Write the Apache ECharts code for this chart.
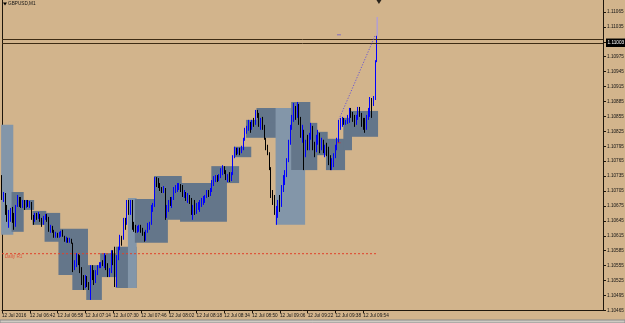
<!DOCTYPE html>
<html><head><meta charset="utf-8">
<script src="https://cdn.jsdelivr.net/npm/echarts@6/dist/echarts.min.js"></script>
<style>html,body{margin:0;padding:0;background:#d2b48c;}#c{width:625px;height:323px;}</style>
</head><body><div id="c"></div>
<script>
const symbolName = 'GBPUSD,M1';
const timeLabels = ['12 Jul 2016','12 Jul 06:42','12 Jul 06:58','12 Jul 07:14','12 Jul 07:30','12 Jul 07:46','12 Jul 08:02','12 Jul 08:18','12 Jul 08:34','12 Jul 08:50','12 Jul 09:06','12 Jul 09:22','12 Jul 09:38','12 Jul 09:54'];
const labelStep = 16;
const slotCount = 347;
const yMin = 1.10465, yMax = 1.11089, yStep = 0.0003;

const opens = [1.10731,1.10691,1.10699,1.10663,1.10651,1.10659,1.10667,1.10649,1.10635,1.10673,
1.10693,1.10681,1.10677,1.10685,1.10671,1.10681,1.10677,1.10683,1.10651,1.10643,
1.10657,1.10651,1.10659,1.10649,1.10637,1.10653,1.10655,1.10647,1.10627,1.10633,
1.10625,1.10617,1.10619,1.10613,1.10619,1.10623,1.10615,1.10607,1.10609,1.10603,
1.10605,1.10601,1.10550,1.10562,1.10576,1.10562,1.10546,1.10522,1.10512,1.10530,
1.10516,1.10510,1.10550,1.10534,1.10522,1.10542,1.10552,1.10556,1.10560,1.10558,
1.10574,1.10554,1.10538,1.10544,1.10582,1.10562,1.10518,1.10570,1.10586,1.10611,
1.10607,1.10643,1.10637,1.10681,1.10667,1.10677,1.10635,1.10631,1.10627,1.10631,
1.10633,1.10625,1.10621,1.10607,1.10623,1.10635,1.10639,1.10671,1.10677,1.10727,
1.10721,1.10717,1.10711,1.10707,1.10711,1.10653,1.10671,1.10681,1.10679,1.10689,
1.10709,1.10713,1.10715,1.10717,1.10707,1.10697,1.10701,1.10691,1.10695,1.10683,
1.10663,1.10671,1.10667,1.10675,1.10679,1.10683,1.10687,1.10689,1.10693,1.10703,
1.10699,1.10707,1.10723,1.10731,1.10733,1.10729,1.10735,1.10747,1.10753,1.10747,
1.10731,1.10735,1.10727,1.10739,1.10771,1.10787,1.10783,1.10787,1.10781,1.10790,
1.10806,1.10826,1.10830,1.10840,1.10828,1.10842,1.10838,1.10864,1.10858,1.10838,
1.10846,1.10832,1.10812,1.10794,1.10783,1.10753,1.10697,1.10687,1.10663,1.10671,
1.10683,1.10677,1.10711,1.10731,1.10741,1.10767,1.10802,1.10832,1.10852,1.10872,
1.10856,1.10878,1.10844,1.10820,1.10828,1.10777,1.10802,1.10794,1.10812,1.10836,
1.10796,1.10787,1.10808,1.10818,1.10792,1.10806,1.10787,1.10792,1.10781,1.10763,
1.10755,1.10767,1.10777,1.10794,1.10808,1.10844,1.10848,1.10850,1.10842,1.10844,
1.10854,1.10868,1.10860,1.10850,1.10840,1.10854,1.10870,1.10862,1.10840,1.10836,
1.10828,1.10854,1.10864,1.10888,1.10878,1.10892,1.10964];

const closes = [1.10691,1.10699,1.10663,1.10651,1.10659,1.10667,1.10649,1.10635,1.10673,1.10693,
1.10681,1.10677,1.10685,1.10671,1.10681,1.10677,1.10683,1.10651,1.10643,1.10657,
1.10651,1.10659,1.10649,1.10637,1.10653,1.10655,1.10647,1.10627,1.10633,1.10625,
1.10617,1.10619,1.10613,1.10619,1.10623,1.10615,1.10607,1.10609,1.10603,1.10605,
1.10601,1.10550,1.10562,1.10576,1.10562,1.10546,1.10522,1.10512,1.10530,1.10516,
1.10510,1.10550,1.10534,1.10522,1.10542,1.10552,1.10556,1.10560,1.10558,1.10574,
1.10554,1.10538,1.10544,1.10582,1.10562,1.10518,1.10570,1.10586,1.10611,1.10607,
1.10643,1.10637,1.10681,1.10667,1.10677,1.10635,1.10631,1.10627,1.10631,1.10633,
1.10625,1.10621,1.10607,1.10623,1.10635,1.10639,1.10671,1.10677,1.10727,1.10721,
1.10717,1.10711,1.10707,1.10711,1.10653,1.10671,1.10681,1.10679,1.10689,1.10709,
1.10713,1.10715,1.10717,1.10707,1.10697,1.10701,1.10691,1.10695,1.10683,1.10663,
1.10671,1.10667,1.10675,1.10679,1.10683,1.10687,1.10689,1.10693,1.10703,1.10699,
1.10707,1.10723,1.10731,1.10733,1.10729,1.10735,1.10747,1.10753,1.10747,1.10731,
1.10735,1.10727,1.10739,1.10771,1.10787,1.10783,1.10787,1.10781,1.10790,1.10806,
1.10826,1.10830,1.10840,1.10828,1.10842,1.10838,1.10864,1.10858,1.10838,1.10846,
1.10832,1.10812,1.10794,1.10783,1.10753,1.10697,1.10687,1.10663,1.10671,1.10683,
1.10677,1.10711,1.10731,1.10741,1.10767,1.10802,1.10832,1.10852,1.10872,1.10856,
1.10878,1.10844,1.10820,1.10828,1.10777,1.10802,1.10794,1.10812,1.10836,1.10796,
1.10787,1.10808,1.10818,1.10792,1.10806,1.10787,1.10792,1.10781,1.10763,1.10755,
1.10767,1.10777,1.10794,1.10808,1.10844,1.10848,1.10850,1.10842,1.10844,1.10854,
1.10868,1.10860,1.10850,1.10840,1.10854,1.10870,1.10862,1.10840,1.10836,1.10828,
1.10854,1.10864,1.10888,1.10878,1.10892,1.10964,1.11003];

const highs = [1.10737,1.10703,1.10701,1.10677,1.10667,1.10671,1.10673,1.10661,1.10677,1.10697,
1.10693,1.10693,1.10687,1.10687,1.10687,1.10687,1.10685,1.10683,1.10657,1.10661,
1.10661,1.10663,1.10659,1.10651,1.10655,1.10659,1.10659,1.10653,1.10637,1.10635,
1.10627,1.10623,1.10621,1.10623,1.10625,1.10627,1.10615,1.10613,1.10611,1.10611,
1.10609,1.10601,1.10566,1.10580,1.10578,1.10576,1.10552,1.10536,1.10536,1.10534,
1.10522,1.10556,1.10556,1.10546,1.10546,1.10556,1.10562,1.10562,1.10566,1.10580,
1.10576,1.10560,1.10550,1.10586,1.10586,1.10593,1.10576,1.10593,1.10617,1.10615,
1.10651,1.10651,1.10687,1.10687,1.10687,1.10687,1.10643,1.10637,1.10635,1.10637,
1.10637,1.10631,1.10623,1.10627,1.10641,1.10643,1.10677,1.10681,1.10733,1.10733,
1.10731,1.10721,1.10713,1.10715,1.10711,1.10677,1.10687,1.10693,1.10693,1.10713,
1.10717,1.10721,1.10721,1.10719,1.10717,1.10707,1.10703,1.10701,1.10697,1.10691,
1.10677,1.10687,1.10681,1.10683,1.10687,1.10691,1.10695,1.10697,1.10707,1.10707,
1.10711,1.10727,1.10735,1.10737,1.10737,1.10739,1.10751,1.10757,1.10755,1.10747,
1.10739,1.10743,1.10743,1.10777,1.10794,1.10792,1.10792,1.10792,1.10796,1.10812,
1.10832,1.10836,1.10848,1.10844,1.10848,1.10852,1.10868,1.10868,1.10862,1.10852,
1.10854,1.10838,1.10812,1.10798,1.10783,1.10753,1.10707,1.10697,1.10675,1.10687,
1.10697,1.10717,1.10737,1.10747,1.10771,1.10808,1.10838,1.10858,1.10882,1.10876,
1.10884,1.10880,1.10854,1.10838,1.10828,1.10808,1.10818,1.10822,1.10842,1.10836,
1.10804,1.10818,1.10828,1.10822,1.10812,1.10808,1.10798,1.10802,1.10794,1.10777,
1.10771,1.10781,1.10798,1.10812,1.10848,1.10852,1.10854,1.10852,1.10848,1.10858,
1.10872,1.10872,1.10864,1.10858,1.10858,1.10874,1.10874,1.10862,1.10852,1.10852,
1.10858,1.10872,1.10894,1.10892,1.10896,1.10968,1.11017];

const lows = [1.10687,1.10683,1.10657,1.10643,1.10631,1.10643,1.10641,1.10627,1.10633,1.10673,
1.10673,1.10671,1.10671,1.10667,1.10671,1.10673,1.10671,1.10647,1.10637,1.10643,
1.10647,1.10649,1.10643,1.10633,1.10637,1.10647,1.10643,1.10623,1.10621,1.10621,
1.10611,1.10611,1.10611,1.10611,1.10613,1.10613,1.10603,1.10601,1.10601,1.10601,
1.10599,1.10542,1.10546,1.10552,1.10556,1.10540,1.10516,1.10506,1.10510,1.10512,
1.10506,1.10486,1.10526,1.10516,1.10520,1.10536,1.10550,1.10550,1.10554,1.10550,
1.10546,1.10532,1.10532,1.10540,1.10556,1.10512,1.10512,1.10566,1.10586,1.10595,
1.10607,1.10627,1.10637,1.10657,1.10657,1.10627,1.10623,1.10621,1.10621,1.10623,
1.10621,1.10615,1.10603,1.10605,1.10621,1.10627,1.10637,1.10663,1.10673,1.10713,
1.10711,1.10705,1.10701,1.10701,1.10647,1.10651,1.10663,1.10675,1.10671,1.10687,
1.10701,1.10703,1.10707,1.10703,1.10693,1.10691,1.10685,1.10681,1.10679,1.10657,
1.10647,1.10657,1.10659,1.10667,1.10663,1.10673,1.10677,1.10681,1.10691,1.10693,
1.10695,1.10703,1.10715,1.10723,1.10723,1.10725,1.10731,1.10737,1.10739,1.10727,
1.10723,1.10723,1.10725,1.10737,1.10771,1.10777,1.10779,1.10777,1.10781,1.10787,
1.10806,1.10820,1.10826,1.10822,1.10828,1.10834,1.10838,1.10852,1.10834,1.10828,
1.10828,1.10808,1.10787,1.10777,1.10747,1.10691,1.10677,1.10657,1.10637,1.10651,
1.10663,1.10673,1.10703,1.10717,1.10733,1.10763,1.10798,1.10828,1.10844,1.10848,
1.10852,1.10838,1.10812,1.10802,1.10747,1.10773,1.10787,1.10787,1.10808,1.10787,
1.10773,1.10783,1.10798,1.10781,1.10787,1.10781,1.10773,1.10775,1.10757,1.10747,
1.10747,1.10753,1.10771,1.10787,1.10802,1.10828,1.10834,1.10838,1.10838,1.10840,
1.10842,1.10852,1.10844,1.10834,1.10838,1.10848,1.10854,1.10834,1.10828,1.10822,
1.10828,1.10848,1.10854,1.10852,1.10876,1.10888,1.10964];

// shaded range boxes: first bar, last bar, top price, bottom price, shade (1 = light)
const boxStart  = [0,6,12,18,25,33,41,49,57,66,73,77,88,103,121,134,141,147,158,167,174,181,187,197,201];
const boxEnd    = [6,12,18,25,33,49,49,57,66,77,77,95,103,129,136,143,158,167,174,177,181,187,197,201,216];
const boxTop    = [1.10838,1.10703,1.10687,1.10665,1.10661,1.10629,1.10580,1.10556,1.10580,1.10593,1.10691,1.10689,1.10735,1.10721,1.10755,1.10794,1.10848,1.10872,1.10872,1.10884,1.10842,1.10824,1.10810,1.10852,1.10866];
const boxBottom = [1.10617,1.10623,1.10667,1.10637,1.10603,1.10536,1.10506,1.10486,1.10532,1.10510,1.10510,1.10601,1.10647,1.10643,1.10721,1.10773,1.10812,1.10842,1.10637,1.10747,1.10747,1.10777,1.10747,1.10787,1.10814];
const boxShade  = [1,0,0,0,0,0,0,0,0,0,1,0,0,0,0,0,0,0,1,0,0,0,0,0,0];

const bidPrice = 1.11003, askPrice = 1.11010;
const dailyR1 = 1.10579, r1EndBar = 216;
const trendStart = [194, 1.10849], trendEnd = [215, 1.11019];
const spikeTop = 1.11055, spikeBar = 216;

const chart = echarts.init(document.getElementById('c'), null, {renderer:'canvas', width:625, height:323});
const slots = [];
for (let i = 0; i < slotCount; i++) slots.push(String(i));
const isLabelSlot = (i) => i % labelStep === 0 && i / labelStep < timeLabels.length;
const candles = opens.map((o, i) => [o, closes[i], lows[i], highs[i]]);
const boxes = boxStart.map((s, i) => [s, boxEnd[i], boxTop[i], boxBottom[i]]);
const AX = '#1e160c';
const TXT = '#141414';
const FONT = 'Liberation Sans';
const FS = 4.7;

const option = {
  backgroundColor: '#d2b48c',
  animation: false,
  textStyle: {fontFamily: FONT},
  grid: {left: 2, top: 0, width: 601, height: 310.4, containLabel: false, outerBoundsMode: 'none'},
  xAxis: {
    type: 'category', data: slots, boundaryGap: false,
    axisLine: {lineStyle: {color: AX, width: 1}},
    axisTick: {show: true, interval: (i) => isLabelSlot(i), length: 3, lineStyle: {color: AX}},
    axisLabel: {interval: (i) => isLabelSlot(i), formatter: (v, i) => timeLabels[i / labelStep],
      align: 'left', fontSize: FS, color: TXT, margin: 3, fontFamily: FONT},
    splitLine: {show: false}
  },
  yAxis: [
    {type: 'value', position: 'right', min: yMin, max: yMax, interval: yStep,
      axisLine: {show: true, lineStyle: {color: AX}},
      axisTick: {show: true, length: 3, lineStyle: {color: AX}},
      axisLabel: {formatter: (v) => v.toFixed(5), fontSize: FS, color: TXT, margin: 4, showMaxLabel: false, fontFamily: FONT},
      splitLine: {show: false}},
    {type: 'value', position: 'left', min: yMin, max: yMax,
      axisLine: {show: true, lineStyle: {color: AX}}, axisTick: {show: false},
      axisLabel: {show: false}, splitLine: {show: false}}
  ],
  graphic: [
    {type: 'polygon', shape: {points: [[3, 2.5], [7, 2.5], [5, 5.5]]}, style: {fill: '#000'}},
    {type: 'text', x: 8, y: 1.4, style: {text: symbolName, fontSize: FS, fill: TXT, fontFamily: FONT}},
    {type: 'rect', shape: {x: 0, y: 320, width: 625, height: 3}, style: {fill: '#cfcbc3', stroke: '#8c8c8c', lineWidth: 1}}
  ],
  series: [
    {
      type: 'custom', z: 1, silent: true, clip: false,
      encode: {x: [0, 1], y: [2, 3]},
      data: boxes,
      renderItem: (params, api) => {
        const half = api.size([1, 0])[0] / 2;
        const p1 = api.coord([api.value(0), api.value(2)]);
        const p2 = api.coord([api.value(1), api.value(3)]);
        return {type: 'rect',
          shape: {x: p1[0] - half, y: p1[1], width: p2[0] - p1[0] + 2 * half, height: p2[1] - p1[1]},
          style: {fill: boxShade[params.dataIndex] ? '#8396a9' : '#64768a'}};
      }
    },
    {
      type: 'candlestick', z: 3, barWidth: 1, data: candles, silent: true,
      itemStyle: {color: '#0000ff', color0: '#000000', borderColor: '#0000ff', borderColor0: '#000000', borderWidth: 1},
      markLine: {
        silent: true, symbol: ['none', 'none'], animation: false, precision: 5,
        data: [
          {yAxis: askPrice, lineStyle: {color: '#3e2c14', width: 1, type: 'solid'}, label: {show: false}},
          {yAxis: bidPrice, lineStyle: {color: '#3e2c14', width: 1, type: 'solid'},
            label: {show: true, position: 'end', distance: 3, formatter: bidPrice.toFixed(5),
              backgroundColor: '#000', color: '#fff', padding: [2, 1.5, 1.5, 1.5], fontSize: FS, fontFamily: FONT}}
        ]
      }
    },
    {
      type: 'line', z: 2, silent: true, symbol: 'none',
      data: [[0, dailyR1], [r1EndBar, dailyR1]],
      lineStyle: {color: '#e0402a', width: 1, type: [2, 2]}
    },
    {
      type: 'scatter', z: 4, silent: true, symbolSize: 0,
      data: [[1, dailyR1]],
      label: {show: true, formatter: 'Daily R1', position: [1, 1], color: '#e0402a', fontSize: FS, fontFamily: FONT}
    },
    {
      type: 'line', z: 2, silent: true, symbol: 'none',
      data: [[spikeBar, spikeTop], [spikeBar, highs[highs.length - 1]]],
      lineStyle: {color: '#b39fd2', width: 1.5}
    },
    {
      type: 'line', z: 5, silent: true, symbol: 'circle', symbolSize: 3.5, showSymbol: true,
      data: [trendStart, trendEnd],
      itemStyle: {color: '#ffffff', borderColor: '#2a2ae0', borderWidth: 1},
      lineStyle: {color: '#6a58d0', width: 1, type: [1.2, 1.6]}
    },
    {
      type: 'scatter', z: 5, silent: true,
      data: [
        {value: [trendStart[0], trendEnd[1]], symbol: 'rect', symbolSize: [4, 1], itemStyle: {color: '#6c5ad0'}},
        {value: [trendStart[0], 1.10802], symbol: 'rect', symbolSize: [3, 1], itemStyle: {color: '#e02020'}},
        {value: [217, yMax], symbol: 'triangle', symbolRotate: 180, symbolSize: [5, 4], symbolOffset: [0, 2], itemStyle: {color: '#000'}}
      ]
    }
  ]
};
chart.setOption(option);
</script>
</body></html>
